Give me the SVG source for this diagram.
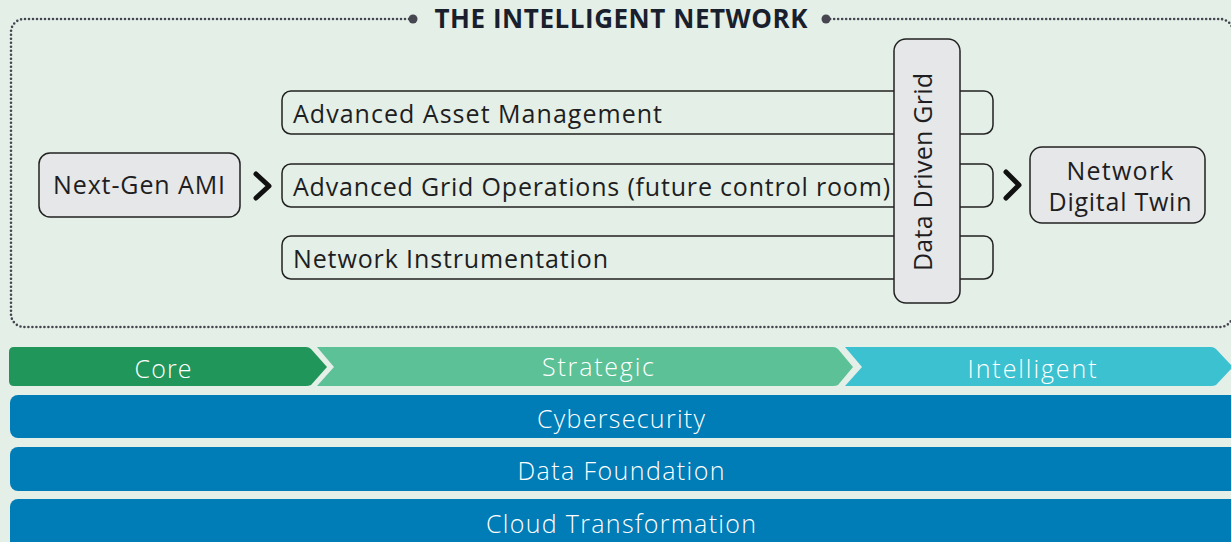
<svg xmlns="http://www.w3.org/2000/svg" width="1231" height="542" viewBox="0 0 1231 542">
<defs>
<style>
.t{font-family:"Open Sans","Noto Sans","Liberation Sans",sans-serif;fill:#1e1e22;font-size:25px}
.w{font-family:"Open Sans","Noto Sans","Liberation Sans",sans-serif;fill:#ffffff;font-size:25px;font-weight:300;text-anchor:middle}
.box{fill:#e6e7e9;stroke:#222;stroke-width:1.5}
.row{fill:none;stroke:#222;stroke-width:1.5}
.chev{fill:none;stroke:#111;stroke-width:5;stroke-linecap:round;stroke-linejoin:round}
.blue{fill:#007cb7}
</style>
</defs>
<rect width="1231" height="542" fill="#e4efe7"/>
<g id="frame">
<path d="M413 19 H24 A13 13 0 0 0 11 32 V314 A13 13 0 0 0 24 327 H1220 A13 13 0 0 0 1233 314 V32 A13 13 0 0 0 1220 19 H826" fill="none" stroke="#45454f" stroke-width="2.6" stroke-linecap="round" stroke-dasharray="0 4"/>
<circle cx="413" cy="19" r="4.5" fill="#474752"/>
<circle cx="826" cy="19" r="4.5" fill="#474752"/>
<text x="621" y="28" text-anchor="middle" font-family="'Open Sans','Noto Sans','Liberation Sans',sans-serif" font-weight="bold" font-size="26" fill="#1a1f2e" textLength="373">THE INTELLIGENT NETWORK</text>
</g>
<g id="rows">
<g id="row-asset"><rect class="row" x="282" y="91" width="711" height="43" rx="9"/><text class="t" x="293" y="123" textLength="369">Advanced Asset Management</text></g>
<g id="row-grid"><rect class="row" x="282" y="164" width="711" height="43" rx="9"/><text class="t" x="293" y="196" textLength="597">Advanced Grid Operations (future control room)</text></g>
<g id="row-instr"><rect class="row" x="282" y="236" width="711" height="43" rx="9"/><text class="t" x="293" y="268" textLength="315">Network Instrumentation</text></g>
</g>
<g id="node-ami"><rect class="box" x="39" y="153" width="201" height="64" rx="11"/><text class="t" x="53" y="194" textLength="172">Next-Gen AMI</text></g>
<g id="node-ddg"><rect class="box" x="894" y="39" width="66" height="264" rx="12"/><text class="t" transform="translate(932 271) rotate(-90)" x="0" y="0" textLength="198">Data Driven Grid</text></g>
<g id="node-twin"><rect class="box" x="1030" y="147" width="175" height="76" rx="12"/><text class="t" x="1120" y="180" text-anchor="middle" font-size="24" textLength="107">Network</text><text class="t" x="1120" y="211" text-anchor="middle" font-size="24" textLength="143">Digital Twin</text></g>
<g id="connectors">
<path class="chev" d="M256 174 L269 186 L256 198"/>
<path class="chev" d="M1006 172 L1019 185 L1006 198"/>
</g>
<g id="maturity">
<path d="M14 347 H306 Q309 347 311 349 L327 367 L311 385 Q309 386 306 386 H14 Q9 386 9 381 V352 Q9 347 14 347 Z" fill="#21965a"/>
<path d="M317 347 H833 Q836 347 838 349 L853 367 L838 385 Q836 386 833 386 H317 L334 367 Z" fill="#5cc196"/>
<path d="M845 347 H1211 Q1214 347 1216 349 L1233 367 L1216 385 Q1214 386 1211 386 H845 L862 367 Z" fill="#3bc1cf"/>
<text class="w" x="163" y="378" textLength="57">Core</text>
<text class="w" x="598" y="376" textLength="112">Strategic</text>
<text class="w" x="1032" y="378" textLength="129">Intelligent</text>
</g>
<g id="foundations">
<g id="bar-cyber"><rect class="blue" x="10" y="395" width="1235" height="43" rx="8"/><text class="w" x="621" y="428" textLength="168">Cybersecurity</text></g>
<g id="bar-data"><rect class="blue" x="10" y="447" width="1235" height="44" rx="8"/><text class="w" x="621" y="480" textLength="207">Data Foundation</text></g>
<g id="bar-cloud"><rect class="blue" x="10" y="499" width="1235" height="60" rx="8"/><text class="w" x="621" y="533" textLength="270">Cloud Transformation</text></g>
</g>
</svg>
